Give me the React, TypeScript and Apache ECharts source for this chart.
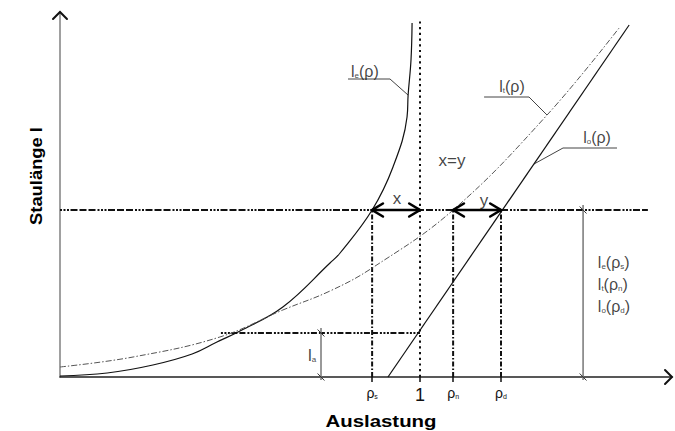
import React, { useEffect, useRef } from "react";
import * as echarts from "echarts";

const FONT = '"Liberation Sans", Arial, sans-serif';

// Axes (x: Auslastung ρ, y: Staulänge l in arbitrary units)
const X_MAX = 1.7;
const Y_MAX = 36.5;

// Key values
const RHO_S = 0.867;
const RHO_N = 1.092;
const RHO_D = 1.225;
const L_LEVEL = 16.7;
const L_A = 4.4;

// Tick marks / labels on the x axis
const tickValues = [RHO_S, 1, RHO_N, RHO_D];
const tickLabels = ["{r|ρ}{s|s}", "{one|1}", "{r|ρ}{s|n}", "{r|ρ}{s|d}"];

// Curve l_e(ρ)
const leX = [0, 0.131, 0.258, 0.367, 0.436, 0.5, 0.619, 0.75, 0.778, 0.867, 0.925, 0.964, 0.967, 0.975, 0.978];
const leY = [0.1, 0.4, 1.2, 2.3, 3.5, 4.6, 7.0, 11.4, 12.4, 16.7, 21.0, 26.0, 28.2, 31.7, 35.4];

// Curve l_t(ρ)
const ltX = [0, 0.203, 0.444, 0.619, 0.75, 0.867, 1.092, 1.353, 1.553];
const ltY = [1.0, 2.0, 4.0, 6.7, 8.6, 10.9, 16.7, 26.2, 34.9];

// Line l_o(ρ)
const loX = [0.911, 1.581];
const loY = [0, 35.2];

// Helper line extents
const LEVEL_END_X = 1.633;
const ONE_TOP = 35.6;
const LA_START_X = 0.447;
const LA_DIM_X = 0.725;
const LA_DIM_TOP = 4.9;
const RIGHT_DIM_X = 1.453;
const RIGHT_DIM_TOP = 17.2;
const DIM_BOTTOM = -0.3;
const SLASH_DX = 0.0095;
const SLASH_DY = 0.35;

// Arrow head sizes (data units)
const AX_DX = 0.0194;
const AX_DY = 0.7;
const DA_DX = 0.03;
const DA_DY = 0.65;

// Leader lines for curve labels
const leaderLe = [[0.8, 29.8], [0.9167, 29.8], [0.9667, 28.2]];
const leaderLt = [[1.178, 28.0], [1.3028, 28.0], [1.3528, 26.2]];
const leaderLo = [[1.3167, 21.3], [1.3972, 22.9], [1.5472, 22.9]];

// Centered annotations
const annoText = [
  "{l|l}{sub|e}{l|(ρ)}",
  "{l|l}{sub|t}{l|(ρ)}",
  "{l|l}{sub|o}{l|(ρ)}",
  "{b|x=y}",
  "{b|x}",
  "{b|y}",
  "{la|l}{sub|a}",
];
const annoX = [0.847, 1.2556, 1.4917, 1.089, 0.936, 1.178, 0.7];
const annoY = [30.6, 29.1, 24.0, 21.7, 17.9, 17.7, 2.2];

// Left-aligned annotations on the right
const rightText = [
  "{l|l}{sub|e}{l|(ρ}{sub|s}{l|)}",
  "{l|l}{sub|t}{l|(ρ}{sub|n}{l|)}",
  "{l|l}{sub|o}{l|(ρ}{sub|d}{l|)}",
];
const rightX = 1.494;
const rightY = [11.5, 9.3, 7.1];

const rich = {
  l: { fontSize: 16, fontFamily: FONT, color: "#111" },
  b: { fontSize: 17, fontFamily: FONT, color: "#111" },
  la: { fontSize: 17, fontFamily: FONT, color: "#111" },
  sub: { fontSize: 8, fontFamily: FONT, color: "#111", verticalAlign: "bottom" },
  r: { fontSize: 14, fontFamily: FONT, color: "#111" },
  s: { fontSize: 7, fontFamily: FONT, color: "#111", verticalAlign: "bottom" },
  one: { fontSize: 18, fontFamily: FONT, color: "#111" },
};

function seg(coords: number[][], lineStyle: any, extra: any = {}) {
  return {
    type: "lines",
    coordinateSystem: "cartesian2d",
    polyline: true,
    silent: true,
    clip: false,
    symbol: "none",
    data: [{ coords }],
    lineStyle: { opacity: 1, curveness: 0, ...lineStyle },
    ...extra,
  };
}

export default function App() {
  const ref = useRef<HTMLDivElement>(null);

  useEffect(() => {
    if (!ref.current) return;
    const chart = echarts.init(ref.current, null, { renderer: "svg" });

    const zip = (xs: number[], ys: number[]) => xs.map((x, i) => [x, ys[i]]);
    const slash = (x: number, y: number) => [
      [x - SLASH_DX, y + SLASH_DY],
      [x + SLASH_DX, y - SLASH_DY],
    ];
    const headLeft = (x: number, y: number) => [[x + DA_DX, y + DA_DY], [x, y], [x + DA_DX, y - DA_DY]];
    const headRight = (x: number, y: number) => [[x - DA_DX, y + DA_DY], [x, y], [x - DA_DX, y - DA_DY]];
    const arrowStyle = { color: "#000", width: 2.6, cap: "round", join: "miter" };
    const axisHeadStyle = { color: "#111", width: 2, cap: "round", join: "miter" };

    const option: any = {
      animation: false,
      backgroundColor: "#fff",
      grid: { left: 60, right: 3, top: 12, bottom: 54, containLabel: false },
      xAxis: {
        type: "value",
        min: 0,
        max: X_MAX,
        splitLine: { show: false },
        axisLine: {
          show: true,
          onZero: false,
          lineStyle: { color: "#222", width: 1.5 },
        },
        axisTick: {
          show: true,
          customValues: tickValues,
          length: 5,
          lineStyle: { color: "#111", width: 1.5 },
        },
        axisLabel: {
          show: true,
          customValues: tickValues,
          margin: 9,
          rich,
          formatter: (v: number) => {
            const i = tickValues.findIndex((t) => Math.abs(t - v) < 1e-6);
            return i >= 0 ? tickLabels[i] : "";
          },
        },
      },
      yAxis: {
        type: "value",
        min: 0,
        max: Y_MAX,
        splitLine: { show: false },
        axisLine: {
          show: true,
          onZero: false,
          lineStyle: { color: "#808080", width: 1.5 },
        },
        axisTick: { show: false },
        axisLabel: { show: false },
      },
      graphic: [
        {
          type: "text",
          x: 381,
          y: 421,
          scaleX: 1.2,
          style: {
            text: "Auslastung",
            font: `bold 17px ${FONT}`,
            fill: "#000",
            align: "center",
            verticalAlign: "middle",
          },
        },
        {
          type: "text",
          x: 36,
          y: 176,
          rotation: Math.PI / 2,
          scaleX: 1.08,
          style: {
            text: "Staulänge l",
            font: `bold 17px ${FONT}`,
            fill: "#000",
            align: "center",
            verticalAlign: "middle",
          },
        },
      ],
      series: [
        // axis arrow heads
        seg([[-AX_DX, Y_MAX - AX_DY], [0, Y_MAX], [AX_DX, Y_MAX - AX_DY]], axisHeadStyle),
        seg([[X_MAX - AX_DX, AX_DY], [X_MAX, 0], [X_MAX - AX_DX, -AX_DY]], axisHeadStyle),
        // helper lines
        seg([[0, L_LEVEL], [LEVEL_END_X, L_LEVEL]], {
          color: "#111",
          width: 2,
          type: [2, 1.5, 2, 1.5, 2, 1.5, 7, 2, 7, 2, 7, 2],
        }),
        seg([[1, 0], [1, ONE_TOP]], { color: "#111", width: 2, type: [2.2, 3.5] }),
        seg([[RHO_S, 0], [RHO_S, L_LEVEL]], { color: "#111", width: 2, type: [5, 2, 1.5, 2] }),
        seg([[RHO_N, 0], [RHO_N, L_LEVEL]], { color: "#111", width: 2, type: [5, 2, 1.5, 2] }),
        seg([[RHO_D, 0], [RHO_D, L_LEVEL]], { color: "#111", width: 2, type: [5, 2, 1.5, 2] }),
        seg([[LA_START_X, L_A], [1, L_A]], {
          color: "#111",
          width: 2,
          type: [2, 1.5, 2, 1.5, 2, 1.5, 6, 2, 6, 2],
        }),
        // dimension lines
        seg([[LA_DIM_X, DIM_BOTTOM], [LA_DIM_X, LA_DIM_TOP]], { color: "#777", width: 1.5 }),
        seg(slash(LA_DIM_X, L_A), { color: "#333", width: 1 }),
        seg(slash(LA_DIM_X, 0), { color: "#333", width: 1 }),
        seg([[RIGHT_DIM_X, DIM_BOTTOM], [RIGHT_DIM_X, RIGHT_DIM_TOP]], { color: "#777", width: 1.5 }),
        seg(slash(RIGHT_DIM_X, L_LEVEL), { color: "#333", width: 1 }),
        seg(slash(RIGHT_DIM_X, 0), { color: "#333", width: 1 }),
        // double arrows x and y
        seg([[RHO_S, L_LEVEL], [1, L_LEVEL]], { color: "#000", width: 2.6 }, { z: 5 }),
        seg(headLeft(RHO_S, L_LEVEL), arrowStyle, { z: 5 }),
        seg(headRight(1, L_LEVEL), arrowStyle, { z: 5 }),
        seg([[RHO_N, L_LEVEL], [RHO_D, L_LEVEL]], { color: "#000", width: 2.6 }, { z: 5 }),
        seg(headLeft(RHO_N, L_LEVEL), arrowStyle, { z: 5 }),
        seg(headRight(RHO_D, L_LEVEL), arrowStyle, { z: 5 }),
        // leader lines
        seg(leaderLe, { color: "#444", width: 1 }),
        seg(leaderLt, { color: "#444", width: 1 }),
        seg(leaderLo, { color: "#444", width: 1 }),
        // curves
        {
          type: "line",
          data: zip(leX, leY),
          showSymbol: false,
          smooth: 0.4,
          silent: true,
          clip: false,
          lineStyle: { color: "#111", width: 1.2 },
          z: 4,
        },
        {
          type: "line",
          data: zip(ltX, ltY),
          showSymbol: false,
          smooth: 0.4,
          silent: true,
          clip: false,
          lineStyle: { color: "#555", width: 1, type: [6, 2, 1.5, 2] },
          z: 4,
        },
        {
          type: "line",
          data: zip(loX, loY),
          showSymbol: false,
          silent: true,
          clip: false,
          lineStyle: { color: "#111", width: 1.2 },
          z: 4,
        },
        // annotations
        {
          type: "scatter",
          symbolSize: 0,
          silent: true,
          data: zip(annoX, annoY),
          label: {
            show: true,
            position: "inside",
            color: "#111",
            fontFamily: FONT,
            fontSize: 16,
            rich,
            formatter: (p: any) => annoText[p.dataIndex],
          },
          z: 6,
        },
        {
          type: "scatter",
          symbolSize: 0,
          silent: true,
          data: rightY.map((y) => [rightX, y]),
          label: {
            show: true,
            position: [0, 0],
            align: "left",
            verticalAlign: "middle",
            color: "#111",
            fontFamily: FONT,
            fontSize: 16,
            rich,
            formatter: (p: any) => rightText[p.dataIndex],
          },
          z: 6,
        },
      ],
    };

    chart.setOption(option);
    return () => chart.dispose();
  }, []);

  return (
    <div
      ref={ref}
      style={{ position: "fixed", left: 0, top: 0, width: 675, height: 431, background: "#fff" }}
    />
  );
}
